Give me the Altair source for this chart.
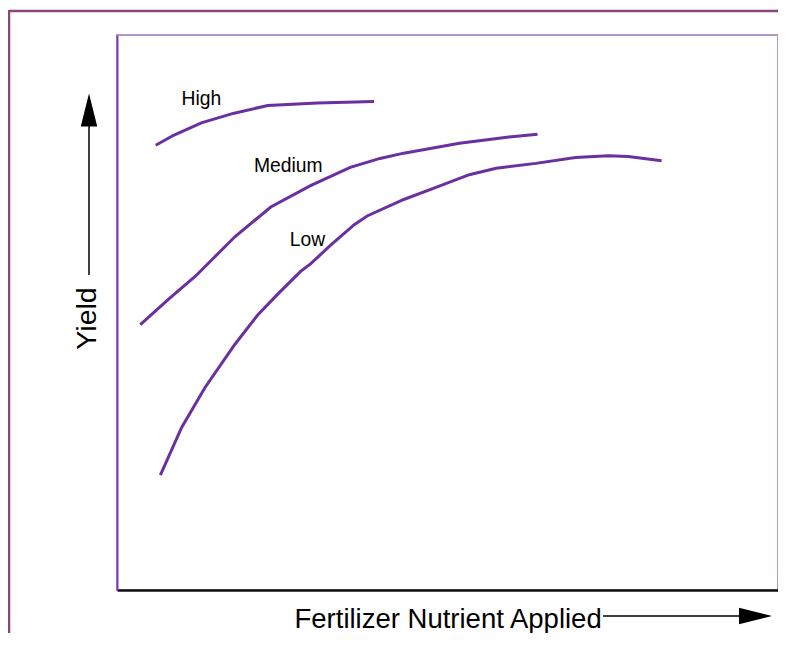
import altair as alt
import pandas as pd

# Curves (x = fertilizer applied, y = yield, arbitrary units 0-100)
high_x = [5.86, 8.56, 12.76, 17.57, 22.82, 30.33, 38.89]
high_y = [80.14, 81.93, 84.17, 85.87, 87.30, 87.75, 88.01]

med_x = [3.53, 7.81, 11.86, 17.87, 23.27, 29.28, 35.29, 39.79, 43.39, 51.80, 59.31, 63.62]
med_y = [47.82, 52.41, 56.53, 63.69, 69.00, 72.86, 76.15, 77.76, 78.71, 80.50, 81.63, 82.11]

low_x = [6.56, 9.80, 13.32, 17.82, 21.32, 24.32, 27.78, 29.28, 32.28, 35.89, 37.84,
         43.39, 48.35, 53.30, 57.36, 63.36, 69.37, 74.32, 77.33, 82.39]
low_y = [20.70, 29.34, 36.49, 44.24, 49.61, 53.31, 57.42, 58.77, 62.08, 65.83, 67.39,
         70.36, 72.58, 74.83, 75.98, 76.87, 77.94, 78.23, 78.12, 77.33]

label_text = ["High", "Medium", "Low"]
label_x = [9.76, 20.72, 26.13]
label_y = [87.30, 75.37, 61.95]

x_title = "Fertilizer Nutrient Applied"
y_title = "Yield"

rows = []
for name, xs_, ys_ in [("High", high_x, high_y), ("Medium", med_x, med_y), ("Low", low_x, low_y)]:
    for i, (a, b) in enumerate(zip(xs_, ys_)):
        rows.append({"level": name, "order": i, "x": a, "y": b})
curves = pd.DataFrame(rows)
labels = pd.DataFrame({"text": label_text, "x": label_x, "y": label_y})
one = pd.DataFrame({"a": [0]})

FONT = "Liberation Sans"
PURPLE = "#6a2fa0"

xs = alt.Scale(domain=[0, 100], nice=False, zero=False)
ys = alt.Scale(domain=[0, 100], nice=False, zero=False)

lines = alt.Chart(curves).mark_line(color=PURPLE, strokeWidth=3).encode(
    x=alt.X("x:Q", scale=xs, axis=alt.Axis(
        title=x_title, ticks=False, labels=False, grid=False,
        domainColor="#111111", domainWidth=2.5,
        titleFont=FONT, titleFontSize=27.5, titleFontWeight="normal", titleColor="#000000",
        titleX=177, titleY=37, titleAlign="left", titleBaseline="alphabetic")),
    y=alt.Y("y:Q", scale=ys, axis=alt.Axis(
        title=y_title, ticks=False, labels=False, grid=False,
        domainColor="#7a3fb5", domainWidth=2,
        titleFont=FONT, titleFontSize=28.5, titleFontWeight="normal", titleColor="#000000",
        titleX=-22, titleY=283, titleAngle=-90, titleAlign="center", titleBaseline="alphabetic")),
    detail="level:N",
    order="order:Q",
)

texts = alt.Chart(labels).mark_text(
    font=FONT, fontSize=19.3, align="left", baseline="alphabetic", color="#000000"
).encode(x=alt.X("x:Q", scale=xs), y=alt.Y("y:Q", scale=ys), text="text:N")

# Outer frame
frame_top = alt.Chart(one).mark_rule(color="#8a4580", strokeWidth=2.5).encode(
    x=alt.value(-108), x2=alt.value(690), y=alt.value(-24))
frame_left = alt.Chart(one).mark_rule(color="#8a4580", strokeWidth=2.5).encode(
    x=alt.value(-108), y=alt.value(-25), y2=alt.value(620))

# Y arrow
y_line = alt.Chart(one).mark_rule(color="#000000", strokeWidth=1.5).encode(
    x=alt.value(-28), y=alt.value(90), y2=alt.value(240))
y_head = alt.Chart(one).mark_point(
    shape="M-0.5,1 L0,-1 L0.5,1 Z", size=1089, filled=True, color="#000000", opacity=1, strokeWidth=0
).encode(x=alt.value(-28), y=alt.value(75))

# X arrow
x_line = alt.Chart(one).mark_rule(color="#000000", strokeWidth=1.5).encode(
    x=alt.value(486), x2=alt.value(626), y=alt.value(581))
x_head = alt.Chart(one).mark_point(
    shape="M-1,-0.5 L1,0 L-1,0.5 Z", size=1089, filled=True, color="#000000", opacity=1, strokeWidth=0
).encode(x=alt.value(638.5), y=alt.value(581))

chart = alt.layer(frame_top, frame_left, lines, texts, y_line, y_head, x_line, x_head).properties(
    width=661, height=555,
    padding={"left": 109, "top": 27, "right": 0, "bottom": 43},
    autosize=alt.AutoSizeParams(type="none"),
).configure_view(stroke="#b596cf", strokeWidth=2)

chart.save("out.html", embed_options={"renderer": "svg", "actions": False})
